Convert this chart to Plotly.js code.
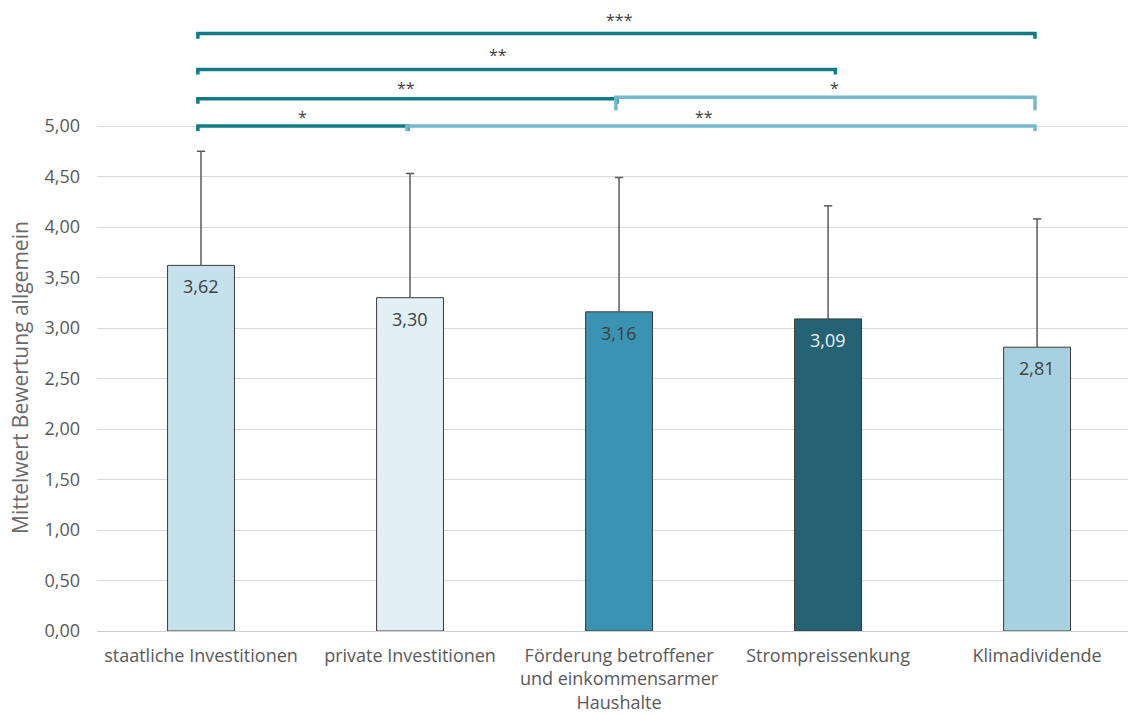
<!DOCTYPE html>
<html>
<head>
<meta charset="utf-8">
<script src="https://cdn.plot.ly/plotly-3.0.1.min.js"></script>
<style>html,body{margin:0;padding:0;background:#fff;}#chart{width:1128px;height:715px;}</style>
</head>
<body>
<div id="chart"></div>
<script>
// ---- data ----
const categories = ["staatliche Investitionen", "private Investitionen", "Förderung betroffener<br>und einkommensarmer<br>Haushalte", "Strompreissenkung", "Klimadividende"];
const means = [3.62, 3.30, 3.16, 3.09, 2.81];
const sd = [1.13, 1.23, 1.33, 1.12, 1.27];
const barColors = ["#c5e1ec", "#e2f0f6", "#3a93b3", "#256273", "#a7d1e0"];
const labelColors = ["#404040", "#404040", "#404040", "#e8f2f5", "#404040"];
const tickVals = [0, 0.5, 1, 1.5, 2, 2.5, 3, 3.5, 4, 4.5, 5];

// significance comparisons: [from, to], level (axis units), label, colour
const compFrom = [0, 1, 0, 2, 0, 0];
const compTo = [1, 4, 2, 4, 3, 4];
const compLevel = [5.0, 5.0, 5.27, 5.285, 5.56, 5.915];
const compLabel = ["*", "**", "**", "*", "**", "***"];
const compColor = ["#0e7b87", "#74b8cf", "#0e7b87", "#74b8cf", "#0e7b87", "#0e7b87"];

// styling helpers (not data)
const compTick = [0.05, 0.05, 0.05, 0.13, 0.05, 0.05];
const compEndShift = [0, 0, 0, 0, 0.045, 0];
const compLabelDx = [-3, -20, -4, 6, -17, 0];
const compLabelDy = [-4, -4, -2, -4, 1, 1];

const trace = {
  type: "bar",
  x: categories,
  y: means,
  width: 0.32,
  marker: {color: barColors, line: {color: "#3a3a3a", width: 1}},
  hoverinfo: "skip"
};

const shapes = [];
const annotations = [];
// error bars (upper only, no cap at the bar top)
const capHalf = 0.02;
for (let i = 0; i < categories.length; i++) {
  const top = means[i] + sd[i];
  shapes.push({type: "line", xref: "x", yref: "y", x0: i, x1: i, y0: means[i], y1: top,
               line: {color: "#5a5a5a", width: 1.5}});
  shapes.push({type: "line", xref: "x", yref: "y", x0: i - capHalf, x1: i + capHalf, y0: top, y1: top,
               line: {color: "#5a5a5a", width: 1.5}});
}
for (let i = 0; i < compFrom.length; i++) {
  const a = compFrom[i] - 0.015, b = compTo[i] - 0.01 + compEndShift[i], y = compLevel[i], t = compTick[i];
  shapes.push({
    type: "path", xref: "x", yref: "y",
    path: `M ${a},${y - t} L ${a},${y} L ${b},${y} L ${b},${y - t}`,
    line: {color: compColor[i], width: 3.5}
  });
  annotations.push({
    xref: "x", yref: "y", x: (compFrom[i] + compTo[i]) / 2, y: y,
    text: compLabel[i], showarrow: false, yanchor: "bottom",
    xshift: compLabelDx[i], yshift: compLabelDy[i],
    font: {family: "Open Sans, sans-serif", size: 16, color: "#404040"}
  });
}
for (let i = 0; i < categories.length; i++) {
  annotations.push({
    xref: "x", yref: "y", x: categories[i], y: means[i],
    text: means[i].toFixed(2).replace(".", ","), showarrow: false,
    yanchor: "middle", yshift: -21,
    font: {family: "Open Sans, sans-serif", size: 18, color: labelColors[i]}
  });
}
annotations.push({
  xref: "paper", yref: "paper", x: 0, xshift: -77, y: (715 - 84 - 378) / 626,
  text: "Mittelwert Bewertung allgemein", textangle: -90, showarrow: false,
  xanchor: "center", yanchor: "middle",
  font: {family: "Open Sans, sans-serif", size: 21, color: "#6a6a6a"}
});

const layout = {
  width: 1128, height: 715,
  margin: {l: 97, r: 0, t: 5, b: 84},
  paper_bgcolor: "#ffffff", plot_bgcolor: "#ffffff",
  separators: ",.",
  showlegend: false,
  font: {family: "Open Sans, sans-serif", color: "#595959"},
  xaxis: {
    type: "category", range: [-0.4976, 4.435], fixedrange: true,
    showgrid: false, showline: false, zeroline: false, ticks: "",
    ticklabelstandoff: 12,
    tickfont: {family: "Open Sans, sans-serif", size: 18, color: "#595959"}
  },
  yaxis: {
    range: [0, 6.198], tickvals: tickVals, tickformat: ".2f",
    showgrid: true, gridcolor: "#d9d9d9", gridwidth: 1,
    zeroline: true, zerolinecolor: "#d0d0d0", zerolinewidth: 1,
    showline: false, ticks: "", ticklen: 0,
    ticklabelstandoff: 16,
    tickfont: {family: "Open Sans, sans-serif", size: 18, color: "#595959"}
  },
  shapes: shapes,
  annotations: annotations
};

Plotly.newPlot("chart", [trace], layout, {displayModeBar: false, staticPlot: true});
</script>
</body>
</html>
